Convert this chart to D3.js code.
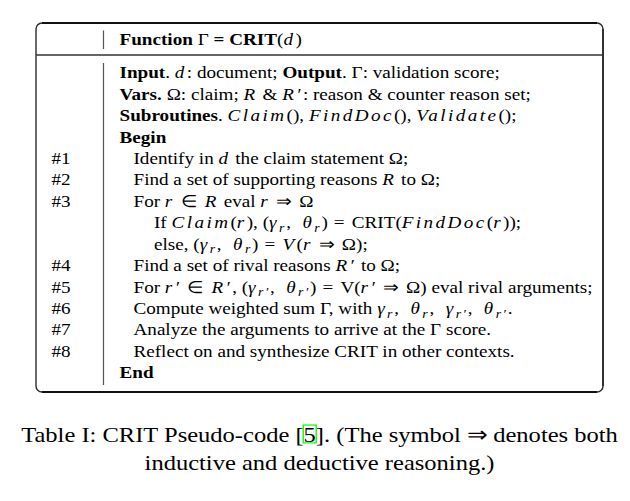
<!DOCTYPE html>
<html><head><meta charset="utf-8">
<script src="https://cdn.jsdelivr.net/npm/d3@7"></script>
<style>
html,body{margin:0;padding:0;background:#fff;}
svg text{font-family:"Liberation Serif","Times New Roman",serif;fill:#000;}
</style></head>
<body><svg id="c" width="630" height="501"></svg>
<script>
// segment codes: b = bold, i = italic (math), s = subscript (italic math),
// m = math relation (1) or math comma (2), which get math spacing
const header = [{t:"Function",b:1},{t:" Γ "},{t:"=",b:1},{t:" "},{t:"CRIT",b:1},{t:"("},{t:"d",i:1},{t:")"}];
const lineLabels = ["", "", "", "", "#1", "#2", "#3", "", "", "#4", "#5", "#6", "#7", "#8", ""];
const indents = [0, 0, 0, 0, 1, 1, 1, 2, 2, 1, 1, 1, 1, 1, 0];
const lineTexts = [
  [{t:"Input",b:1},{t:". "},{t:"d",i:1},{t:": document; "},{t:"Output",b:1},{t:". Γ: validation score;"}],
  [{t:"Vars.",b:1},{t:" Ω: claim; "},{t:"R",i:1},{t:" & "},{t:"R′",i:1},{t:": reason & counter reason set;"}],
  [{t:"Subroutines",b:1},{t:". "},{t:"Claim",i:1},{t:"(), "},{t:"FindDoc",i:1},{t:"(), "},{t:"Validate",i:1},{t:"();"}],
  [{t:"Begin",b:1}],
  [{t:"Identify in "},{t:"d",i:1},{t:" the claim statement Ω;"}],
  [{t:"Find a set of supporting reasons "},{t:"R",i:1},{t:" to Ω;"}],
  [{t:"For "},{t:"r",i:1},{t:" ∈ ",m:1},{t:"R",i:1},{t:" eval "},{t:"r",i:1},{t:" ⇒ ",m:1},{t:"Ω"}],
  [{t:"If "},{t:"Claim",i:1},{t:"("},{t:"r",i:1},{t:"), ("},{t:"γ",i:1},{t:"r",s:1},{t:", ",m:2},{t:"θ",i:1},{t:"r",s:1},{t:")"},{t:" = ",m:1},{t:"CRIT("},{t:"FindDoc",i:1},{t:"("},{t:"r",i:1},{t:"));"}],
  [{t:"else, ("},{t:"γ",i:1},{t:"r",s:1},{t:", ",m:2},{t:"θ",i:1},{t:"r",s:1},{t:")"},{t:" = ",m:1},{t:"V",i:1},{t:"("},{t:"r",i:1},{t:" ⇒ ",m:1},{t:"Ω);"}],
  [{t:"Find a set of rival reasons "},{t:"R′",i:1},{t:" to Ω;"}],
  [{t:"For "},{t:"r′",i:1},{t:" ∈ ",m:1},{t:"R′",i:1},{t:", ("},{t:"γ",i:1},{t:"r′",s:1},{t:", ",m:2},{t:"θ",i:1},{t:"r′",s:1},{t:")"},{t:" = ",m:1},{t:"V("},{t:"r′",i:1},{t:" ⇒ ",m:1},{t:"Ω) eval rival arguments;"}],
  [{t:"Compute weighted sum Γ, with "},{t:"γ",i:1},{t:"r",s:1},{t:", ",m:2},{t:"θ",i:1},{t:"r",s:1},{t:", ",m:2},{t:"γ",i:1},{t:"r′",s:1},{t:", ",m:2},{t:"θ",i:1},{t:"r′",s:1},{t:"."}],
  [{t:"Analyze the arguments to arrive at the Γ score."}],
  [{t:"Reflect on and synthesize CRIT in other contexts."}],
  [{t:"End",b:1}]
];
const captionLine1 = ["Table I: CRIT Pseudo-code [", "5", "]. (The symbol ⇒ denotes both"];
const captionLine2 = "inductive and deductive reasoning.)";

const svg = d3.select("#c");
const rowY = d3.scaleLinear().domain([0, lineTexts.length - 1]).range([78.3, 378.3]);
const indentX = d3.scaleOrdinal().domain([0, 1, 2]).range([119.5, 133.5, 154]);
const box = {x0: 36, x1: 603, y0: 23, y1: 392, sep: 55, col: 103.5};

// frame
svg.append("rect").attr("x", box.x0).attr("y", box.y0).attr("width", box.x1 - box.x0).attr("height", box.y1 - box.y0)
  .attr("rx", 6).attr("fill", "none").attr("stroke", "#2b2b2b").attr("stroke-width", 1.4);
svg.append("line").attr("x1", box.x0 + 6).attr("x2", box.x1 - 6).attr("y1", box.y0).attr("y2", box.y0).attr("stroke", "#111").attr("stroke-width", 2);
svg.append("line").attr("x1", box.x0 + 6).attr("x2", box.x1 - 6).attr("y1", box.y1).attr("y2", box.y1).attr("stroke", "#111").attr("stroke-width", 2.2);
svg.append("line").attr("x1", box.x1).attr("x2", box.x1).attr("y1", box.y0 + 6).attr("y2", box.y1 - 6).attr("stroke", "#333").attr("stroke-width", 2);
svg.append("line").attr("x1", box.x0).attr("x2", box.x1).attr("y1", box.sep).attr("y2", box.sep).attr("stroke", "#333").attr("stroke-width", 1.4);
svg.append("line").attr("x1", box.col).attr("x2", box.col).attr("y1", 30.5).attr("y2", 49).attr("stroke", "#555").attr("stroke-width", 1.2);
svg.append("line").attr("x1", box.col).attr("x2", box.col).attr("y1", 63).attr("y2", 385).attr("stroke", "#555").attr("stroke-width", 1.2);

function writeSegs(textSel, segs) {
  let shifted = false;
  segs.forEach(s => {
    const ts = textSel.append("tspan").text(s.t);
    if (s.b) ts.attr("font-weight", "bold");
    if (s.i || s.s) ts.attr("font-style", "italic").attr("letter-spacing", s.s ? 1.6 : 2.2);
    if (s.m === 1) ts.attr("letter-spacing", 1.1);
    if (s.m === 2) ts.attr("letter-spacing", 3);
    if (s.s) {
      ts.attr("font-size", 12.5);
      if (!shifted) { ts.attr("dy", 3.5); shifted = true; }
    } else if (shifted) { ts.attr("dy", -3.5); shifted = false; }
  });
}

const FS = 17.3;
const hdr = svg.append("text").attr("font-size", FS);
writeSegs(hdr, header);

const codes = svg.selectAll("text.code").data(lineTexts).join("text").attr("class", "code")
  .attr("font-size", FS)
  .each(function(d) { writeSegs(d3.select(this), d); });

// horizontal stretch so the first code line spans the same width as in the reference
const sx = 380 / codes.nodes()[0].getComputedTextLength();
hdr.attr("transform", `translate(119.5,45) scale(${sx},1)`);
codes.attr("transform", (d, i) => `translate(${indentX(indents[i])},${rowY(i)}) scale(${sx},1)`);

svg.selectAll("text.lab").data(lineLabels).join("text").attr("class", "lab")
  .attr("transform", (d, i) => `translate(51.5,${rowY(i)}) scale(${sx},1)`).attr("font-size", FS).text(d => d);

// caption
const CFS = 21.7;
const cap1 = svg.append("text").attr("font-size", CFS).attr("text-anchor", "middle");
cap1.append("tspan").text(captionLine1[0]);
const five = cap1.append("tspan").text(captionLine1[1]);
cap1.append("tspan").text(captionLine1[2]);
const csx = 597 / cap1.node().getComputedTextLength();
cap1.attr("transform", `translate(319.5,441.7) scale(${csx},1)`);
const bb = five.node().getBBox();
svg.append("rect").attr("transform", `translate(319.5,441.7) scale(${csx},1)`)
  .attr("x", bb.x - 0.3).attr("y", bb.y + 3).attr("width", bb.width + 0.6).attr("height", bb.height - 6.5)
  .attr("fill", "none").attr("stroke", "#00ff00").attr("stroke-width", 1.2);
svg.append("text").attr("transform", `translate(319.5,470) scale(${csx},1)`).attr("font-size", CFS)
  .attr("text-anchor", "middle").text(captionLine2);
</script></body></html>
